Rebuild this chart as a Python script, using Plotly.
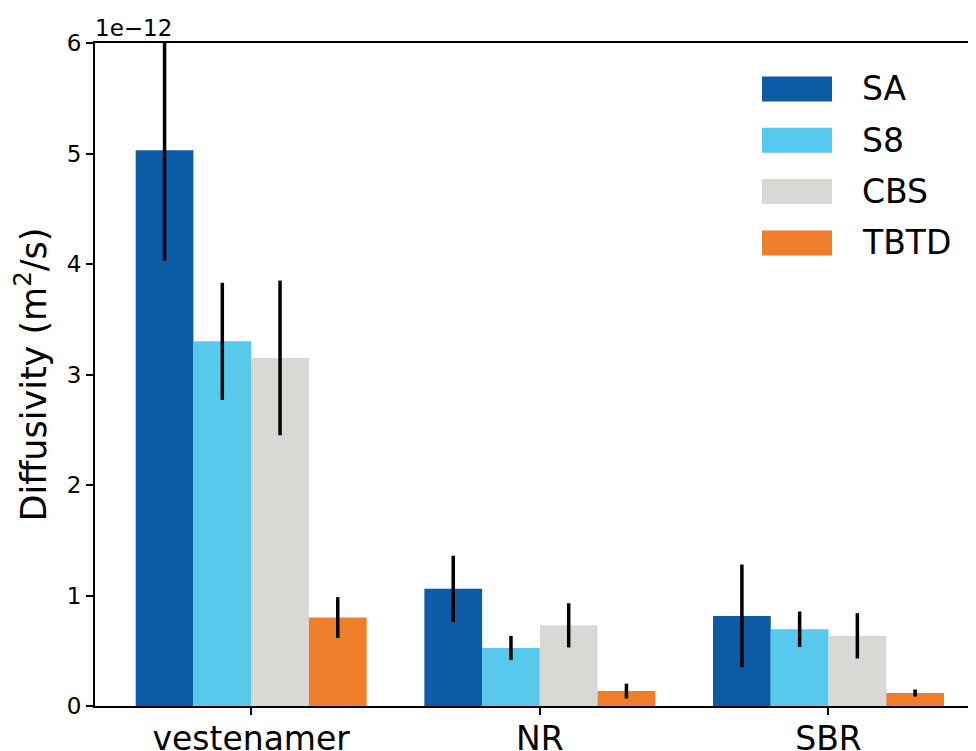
import plotly.graph_objects as go

categories = ["vestenamer", "NR", "SBR"]
series_names = ["SA", "S8", "CBS", "TBTD"]
colors = ["#0b5ba7", "#56c9ed", "#d8d8d5", "#ef7d2a"]

SA = [5.03e-12, 1.06e-12, 0.815e-12]
SA_err = [1.00e-12, 0.30e-12, 0.465e-12]
S8 = [3.30e-12, 0.525e-12, 0.695e-12]
S8_err = [0.53e-12, 0.11e-12, 0.16e-12]
CBS = [3.15e-12, 0.73e-12, 0.635e-12]
CBS_err = [0.70e-12, 0.20e-12, 0.205e-12]
TBTD = [0.80e-12, 0.135e-12, 0.118e-12]
TBTD_err = [0.185e-12, 0.067e-12, 0.032e-12]

y_tick_vals = [0, 1e-12, 2e-12, 3e-12, 4e-12, 5e-12, 6e-12]
y_tick_text = ["0", "1", "2", "3", "4", "5", "6"]

values = [SA, S8, CBS, TBTD]
errors = [SA_err, S8_err, CBS_err, TBTD_err]

FONT = "DejaVu Sans"
OFF = 8  # page body margin
PL, PT, PW, PH = 95 - OFF, 43 - OFF, 881, 663

fig = go.Figure()
for name, col, v, e in zip(series_names, colors, values, errors):
    fig.add_trace(go.Bar(
        x=categories, y=v, name=name, marker=dict(color=col, line=dict(width=0)),
        error_y=dict(type="data", array=e, visible=True, color="black", thickness=3.5, width=0),
        showlegend=False,
    ))

# custom legend (matplotlib style)
leg_y0 = 89
for i, (name, col) in enumerate(zip(series_names, colors)):
    yc = leg_y0 + i * 51.3
    fig.add_shape(type="rect", xref="paper", yref="paper",
                  x0=(762 - 95) / PW, x1=(832 - 95) / PW,
                  y0=(706 - (yc + 12.5)) / PH, y1=(706 - (yc - 12.5)) / PH,
                  fillcolor=col, line=dict(width=0))
    fig.add_annotation(xref="paper", yref="paper", x=(860 - 95) / PW, y=(706 - yc) / PH,
                       text=name, showarrow=False, xanchor="left", yanchor="middle",
                       font=dict(family=FONT, size=33, color="black"))

fig.add_annotation(xref="paper", yref="paper", x=0, y=1, xanchor="left", yanchor="bottom",
                   text="1e\u221212", showarrow=False, yshift=0, xshift=-2,
                   font=dict(family=FONT, size=23, color="black"))

fig.update_layout(
    width=976 - OFF, height=751 - OFF,
    margin=dict(l=PL, r=0, t=PT, b=751 - OFF - PT - PH),
    paper_bgcolor="white", plot_bgcolor="white",
    barmode="group", bargap=0.2, bargroupgap=0,
    font=dict(family=FONT, color="black"),
    xaxis=dict(range=[-0.541, 2.511], showline=True, linecolor="black", linewidth=2,
               mirror=True, ticks="outside", ticklen=7, tickwidth=2, tickcolor="black",
               tickfont=dict(family=FONT, size=33), showgrid=False, zeroline=False,
               ticklabelstandoff=-5, automargin=False),
    yaxis=dict(range=[0, 6e-12], tickvals=y_tick_vals, ticktext=y_tick_text,
               showline=True, linecolor="black", linewidth=2,
               ticks="outside", ticklen=7, tickwidth=2, tickcolor="black",
               tickfont=dict(family=FONT, size=23), showgrid=False, zeroline=False,
               title=dict(text="Diffusivity (m<sup>2</sup>/s)", font=dict(family=FONT, size=35), standoff=10),
               automargin=False),
)

fig.write_html("out.html")
